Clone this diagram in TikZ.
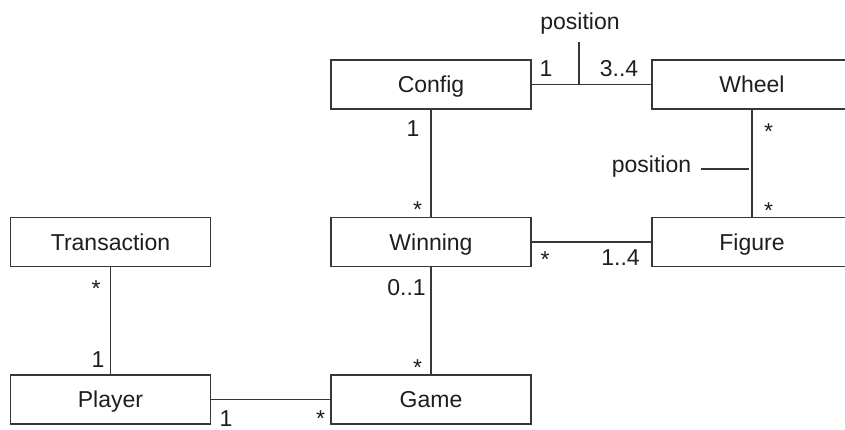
\documentclass[tikz,border=0pt]{standalone}
\usepackage{fontspec}
\setmainfont{Liberation Sans}
\definecolor{lineC}{RGB}{55,55,55}
\definecolor{textC}{RGB}{30,30,30}
\begin{document}
\begin{tikzpicture}[x=1pt,y=-1pt,
  cls/.style={draw=lineC, line width=1.6pt, fill=white, minimum width=200pt,
    minimum height=49pt, inner sep=0pt, text height=16.5pt, text depth=0pt,
    font=\fontsize{23}{27}\selectfont, text=textC},
  conn/.style={draw=lineC, line width=1.5pt},
  mult/.style={anchor=base, inner sep=0pt, font=\fontsize{23}{27}\selectfont, text=textC}]
\useasboundingbox (0,0) rectangle (845,430);
\clip (0,0) rectangle (845,430);

% classes
\node[cls] (config) at (431,84.5) {Config};
\node[cls] (wheel) at (752,84.5) {Wheel};
\node[cls] (winning) at (431,242) {Winning};
\node[cls] (figure) at (752,242) {Figure};
\node[cls] (transaction) at (110.5,242) {Transaction};
\node[cls] (player) at (110.5,399.5) {Player};
\node[cls] (game) at (431,399.5) {Game};

% associations
\draw[conn] (config.east) -- (wheel.west);
\draw[conn] (config.south) -- (winning.north);
\draw[conn] (winning.east) -- (figure.west);
\draw[conn] (wheel.south) -- (figure.north);
\draw[conn] (transaction.south) -- (player.north);
\draw[conn] (player.east) -- (game.west);
\draw[conn] (winning.south) -- (game.north);

% position qualifiers
\coordinate (q1) at (579,84.5);
\coordinate (q2) at (579,42);
\draw[conn] (q1) -- (q2);
\node[mult] (pos1) at (580,30) {position};
\coordinate (r1) at (701,169);
\coordinate (r2) at (749,169);
\draw[conn] (r1) -- (r2);
\node[mult] (pos2) at (651.5,173) {position};

% multiplicities
\node[mult] (m1) at (546,77) {1};
\node[mult] (m2) at (619,77) {3..4};
\node[mult] (m3) at (413,137) {1};
\node[mult] (m4) at (417.5,218) {*};
\node[mult] (m5) at (545,267) {*};
\node[mult] (m6) at (620.5,265) {1..4};
\node[mult] (m7) at (768.5,139.5) {*};
\node[mult] (m8) at (768.5,218.5) {*};
\node[mult] (m9) at (96,296.5) {*};
\node[mult] (m10) at (98,367) {1};
\node[mult] (m11) at (226,426.5) {1};
\node[mult] (m12) at (320.5,426) {*};
\node[mult] (m13) at (406.5,295) {0..1};
\node[mult] (m14) at (417.5,375) {*};
\end{tikzpicture}
\end{document}
